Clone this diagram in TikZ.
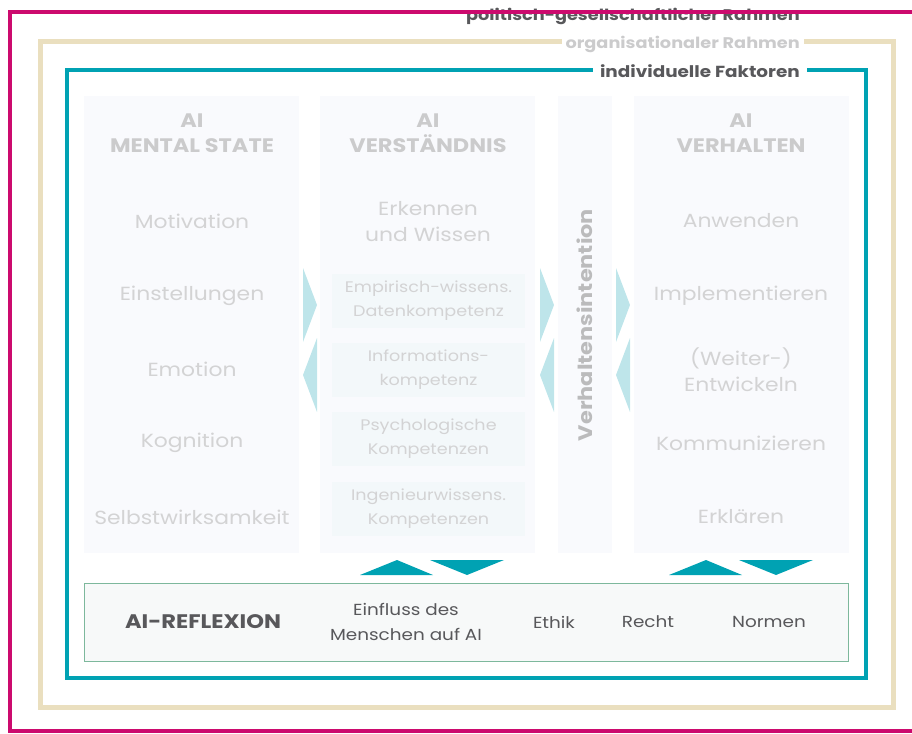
\documentclass[tikz,border=0pt]{standalone}
\usepackage{fontspec}
\setmainfont{Poppins}[FakeStretch=1.15]
\definecolor{frameMagenta}{HTML}{CC0A6E}
\definecolor{frameBeige}{HTML}{EADFBF}
\definecolor{frameTeal}{HTML}{00A2B3}
\definecolor{colFill}{HTML}{F9FAFD}
\definecolor{boxFill}{HTML}{F3F8FA}
\definecolor{chevFill}{HTML}{BEE5EA}
\definecolor{paleText}{HTML}{D3D3D4}
\definecolor{headText}{HTML}{CBCBCC}
\definecolor{darkText}{HTML}{58585B}
\definecolor{reflDraw}{HTML}{7DB89C}
\definecolor{reflFill}{HTML}{F7F9F9}
\begin{document}
\begin{tikzpicture}
[x=1pt,y=-1pt,
  colDecorate/.style={fill=colFill,draw=none,inner sep=0pt},
  kompDecorate/.style={fill=boxFill,draw=none,inner sep=0pt,
    minimum width=193pt,minimum height=54pt,text=paleText,align=center,
    font=\fontsize{15.3}{24}\selectfont},
  itemDecorate/.style={text=paleText,align=center,font=\fontsize{19}{26}\selectfont},
  headDecorate/.style={text=headText,align=center,font=\bfseries\fontsize{19.5}{25}\selectfont},
  labelDecorate/.style={text=darkText,font=\bfseries\fontsize{16}{18}\selectfont,inner sep=0pt},
  chevDecorate/.style={fill=chevFill,draw=none},
  triDecorate/.style={fill=frameTeal,draw=none},
  reflDecorate/.style={text=darkText,align=center,font=\fontsize{16}{25}\selectfont}]
\useasboundingbox (0,0) rectangle (912,733);
%% outer frames and their labels
\node[labelDecorate,font=\bfseries\fontsize{15.4}{18}\selectfont,anchor=base east]
  (politik) at (800,20.5) {politisch-gesellschaftlicher Rahmen};
\draw[frameMagenta,line width=4pt] (10,12) rectangle (940,731);
\draw[frameBeige,line width=5pt] (40,42) rectangle (893,707);
\node[labelDecorate,font=\bfseries\fontsize{15.4}{18}\selectfont,text=headText,fill=white,
  inner xsep=4pt,inner ysep=1pt,anchor=base east] (orga) at (804,49) {organisationaler Rahmen};
\draw[frameTeal,line width=4.5pt] (67,70) rectangle (866,678);
\node[labelDecorate,fill=white,inner xsep=7pt,inner ysep=3pt,anchor=base east]
  (individuell) at (807,78) {individuelle Faktoren};
%% column backgrounds
\foreach \nodename/\x/\w in {mental/191.5/215, verst/427.5/215, intent/585/54, verh/741.5/215}
{
  \node[colDecorate,minimum width=\w pt,minimum height=457pt] (\nodename) at (\x,324.5) {};
}
%% column heads
\foreach \nodename/\x/\txt in {mentalHead/192/{AI\\MENTAL STATE}, verstHead/428/{AI\\VERSTÄNDNIS},
  verhHead/741/{AI\\VERHALTEN}}
{
  \node[headDecorate] (\nodename) at (\x,133) {\txt};
}
\node[headDecorate,rotate=90,text=headText!92!black] (intentText) at (585,325) {Verhaltensintention};
%% column entries
\foreach \nodename/\x/\y/\txt in {
  motivation/192/221/Motivation, einstellung/192/296/Einstellungen,
  emotion/192/369/Emotion, kognition/192/443/Kognition,
  selbst/192/517/Selbstwirksamkeit, erkennen/428/222/{Erkennen\\und Wissen},
  anwenden/741/221/Anwenden, implement/741/296/Implementieren,
  entwickeln/741/370/{(Weiter-)\\Entwickeln}, kommuniz/741/443/Kommunizieren,
  erklaeren/741/517/Erklären}
{
  \node[itemDecorate] (\nodename) at (\x,\y) {\txt};
}
%% competence boxes
\foreach \nodename/\y/\txt in {
  empirisch/301/{Empirisch-wissens.\\Datenkompetenz}, information/370/{Informations-\\kompetenz},
  psycho/439/{Psychologische\\Kompetenzen}, ingenieur/509/{Ingenieurwissens.\\Kompetenzen}}
{
  \node[kompDecorate] (\nodename) at (428.5,\y) {\txt};
}
%% chevrons between columns
\foreach \x in {303,540,616}
{
  \fill[chevDecorate] (\x,268) -- (\x+14,305) -- (\x,342) -- cycle;
  \fill[chevDecorate] (\x+14,338) -- (\x,375) -- (\x+14,412) -- cycle;
}
%% reflexion bar
\node[draw=reflDraw,fill=reflFill,line width=0.8pt,minimum width=764pt,minimum height=78pt,
  inner sep=0pt] (reflexion) at (466,622) {};
\foreach \x in {360,669}
{
  \fill[triDecorate] (\x,575) -- (\x+37,560) -- (\x+73,575) -- cycle;
  \fill[triDecorate] (\x+70,560) -- (\x+107,575) -- (\x+144,560) -- cycle;
}
\node[reflDecorate,font=\bfseries\fontsize{19.6}{22}\selectfont] (reflTitle) at (203,622) {AI-REFLEXION};
\foreach \nodename/\x/\txt in {einfluss/406/{Einfluss des\\Menschen auf AI}, ethik/554/Ethik,
  recht/648/Recht, normen/769/Normen}
{
  \node[reflDecorate] (\nodename) at (\x,622) {\txt};
}
\end{tikzpicture}
\end{document}
